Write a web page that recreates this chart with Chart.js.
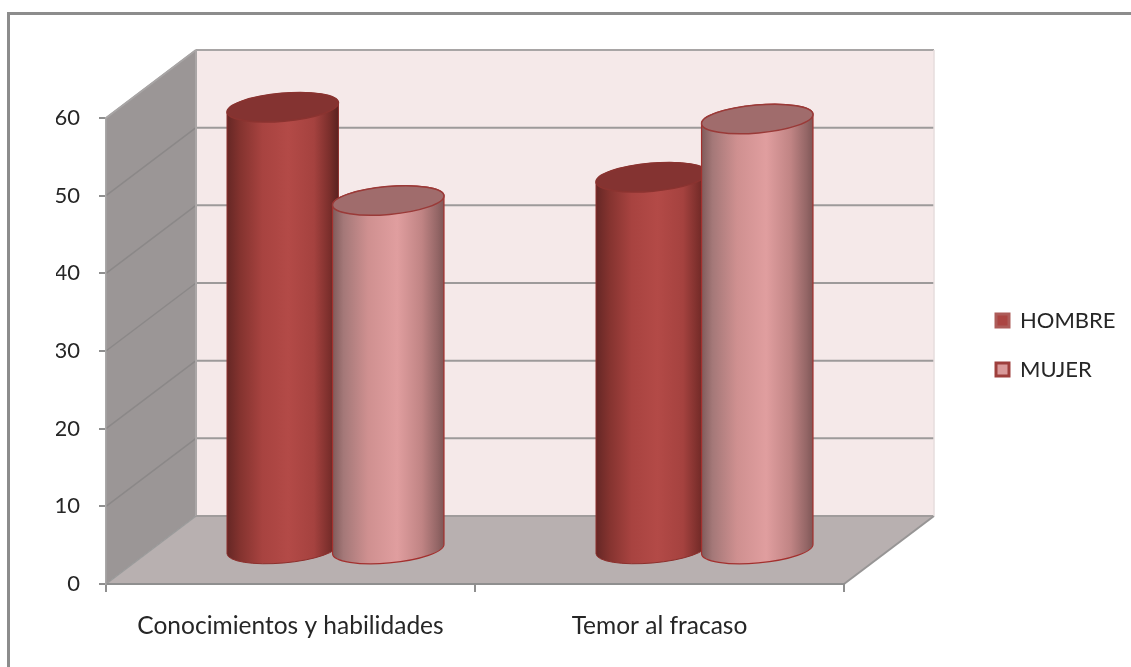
<!DOCTYPE html>
<html>
<head>
<meta charset="utf-8">
<title>Conocimientos y temor al fracaso</title>
<script src="https://cdn.jsdelivr.net/npm/chart.js@4/dist/chart.umd.min.js"></script>
<style>
    html, body { margin: 0; padding: 0; background: #fff; }
    #wrap { position: relative; width: 1131px; height: 667px; overflow: hidden; }
    #frame { position: absolute; left: 7px; top: 12px; width: 1130px; height: 670px; border: 3px solid #8c8c8c; }
    canvas { position: absolute; left: 0; top: 0; }
</style>
</head>
<body>
<div id="wrap">
    <div id="frame"></div>
    <canvas id="chart" width="1131" height="667"></canvas>
</div>
<script>
/* datos */
const categories = ['Conocimientos y habilidades', 'Temor al fracaso'];
const hombre = [57, 48];
const mujer = [45, 55.5];
const yTicksStep = 10;
const yMax = 60;

/* profundidad de la caja 3D */
const DEPTH_X = 90;
const DEPTH_Y = 68;
const TILT = -5 * Math.PI / 180;
const RY = 14;

function line(ctx, x1, y1, x2, y2, color, width) {
    ctx.strokeStyle = color;
    ctx.lineWidth = width;
    ctx.beginPath();
    ctx.moveTo(x1, y1);
    ctx.lineTo(x2, y2);
    ctx.stroke();
}

function poly(ctx, pts, color) {
    ctx.fillStyle = color;
    ctx.beginPath();
    pts.forEach((p, i) => i ? ctx.lineTo(p[0], p[1]) : ctx.moveTo(p[0], p[1]));
    ctx.closePath();
    ctx.fill();
}

// paredes, suelo y rejilla
const walls = {
    id: 'walls',
    beforeDraw(chart) {
        const ctx = chart.ctx;
        const { left, right, top, bottom } = chart.chartArea;
        const dx = DEPTH_X, dy = DEPTH_Y;
        const y = chart.scales.y;
        ctx.save();
        poly(ctx, [[left + dx, top - dy], [right + dx, top - dy], [right + dx, bottom - dy], [left + dx, bottom - dy]], '#f5e9e9');
        poly(ctx, [[left, top], [left + dx, top - dy], [left + dx, bottom - dy], [left, bottom]], '#9b9696');
        poly(ctx, [[left, bottom], [left + dx, bottom - dy], [right + dx, bottom - dy], [right, bottom]], '#b8b0b0');
        y.ticks.forEach(t => {
            const py = y.getPixelForValue(t.value);
            if (t.value > 0 && t.value < yMax) {
                line(ctx, left + dx, py - dy, right + dx, py - dy, '#9d9a9a', 2);
            }
            line(ctx, left, py, left + dx, py - dy, t.value === 0 ? '#9a9a9a' : '#8b8888', 1.5);
        });
        line(ctx, left + dx, top - dy, right + dx, top - dy, '#a8a5a5', 2);
        line(ctx, left, top, left + dx, top - dy, '#a8a5a5', 2);
        line(ctx, left + dx, top - dy, left + dx, bottom - dy, '#aaa6a6', 2);
        line(ctx, left + dx, bottom - dy, right + dx, bottom - dy, '#a09c9c', 2);
        line(ctx, right, bottom, right + dx, bottom - dy, '#979595', 2);
        line(ctx, right + dx, top - dy, right + dx, bottom - dy, '#e6dddd', 1.5);
        ctx.restore();
    }
};

function cylinder(ctx, bar, look) {
    const cx = bar.x + DEPTH_X / 2;
    const topY = bar.y - DEPTH_Y / 2;
    const baseY = bar.base - DEPTH_Y / 2;
    const rx = bar.width / 2;
    const g = ctx.createLinearGradient(cx - rx, 0, cx + rx, 0);
    look.stops.forEach(s => g.addColorStop(s[0], s[1]));

    ctx.beginPath();
    ctx.ellipse(cx, baseY, rx, RY, TILT, 0, Math.PI);
    ctx.ellipse(cx, topY, rx, RY, TILT, Math.PI, Math.PI * 2);
    ctx.closePath();
    ctx.fillStyle = g;
    ctx.fill();
    ctx.strokeStyle = look.edge;
    ctx.lineWidth = look.edgeWidth;
    ctx.stroke();

    ctx.beginPath();
    ctx.ellipse(cx, topY, rx, RY, TILT, 0, Math.PI * 2);
    ctx.fillStyle = look.cap;
    ctx.fill();
    ctx.strokeStyle = look.capEdge;
    ctx.lineWidth = 1.5;
    ctx.stroke();
}

const looks = [
    {
        stops: [[0, '#652725'], [0.12, '#84332f'], [0.32, '#a84340'], [0.55, '#b34a47'], [0.78, '#a5423f'], [0.92, '#7a2e2b'], [1, '#592120']],
        cap: '#843331', capEdge: '#8a3330', edge: '#8c2f2c', edgeWidth: 1
    },
    {
        stops: [[0, '#7f5a5a'], [0.1, '#a47878'], [0.32, '#cf9090'], [0.58, '#e09e9f'], [0.8, '#c08484'], [0.94, '#946666'], [1, '#7e5656']],
        cap: '#a06c6c', capEdge: '#9a3a38', edge: '#a3302e', edgeWidth: 1.2
    }
];

// cilindros: se dibujan en lugar de las barras planas
const cylinders = {
    id: 'cylinders',
    beforeDatasetsDraw(chart) {
        const ctx = chart.ctx;
        ctx.save();
        categories.forEach((c, i) => {
            chart.data.datasets.forEach((d, k) => {
                const bar = chart.getDatasetMeta(k).data[i].getProps(['x', 'y', 'base', 'width'], true);
                cylinder(ctx, bar, looks[k]);
            });
        });
        ctx.restore();
        return false;
    }
};

// la leyenda va fuera de la zona del grafico
const moveLegend = {
    id: 'moveLegend',
    afterLayout(chart) {
        const l = chart.legend;
        const pad = l.options.labels.padding;
        const w = l.right - l.left, h = l.bottom - l.top;
        l.left = 996 - pad;
        l.right = l.left + w;
        l.top = 309.5 - pad;
        l.bottom = l.top + h;
    }
};

const sideFont = { family: 'Lato', size: 22 };
const bottomFont = { family: 'Lato', size: 24.5 };

new Chart(document.getElementById('chart'), {
    type: 'bar',
    data: {
        labels: categories,
        datasets: [
            { label: 'HOMBRE', data: hombre, backgroundColor: '#ab4542', borderColor: '#ad5c59', borderWidth: 3 },
            { label: 'MUJER', data: mujer, backgroundColor: '#d99a9a', borderColor: '#9e3f3c', borderWidth: 3 }
        ]
    },
    options: {
        responsive: false,
        animation: false,
        categoryPercentage: 0.572,
        barPercentage: 1.06,
        layout: { padding: { left: 56, top: 118, right: 287, bottom: 23 } },
        plugins: {
            tooltip: { enabled: false },
            legend: {
                position: 'chartArea',
                align: 'start',
                labels: { boxWidth: 13, boxHeight: 13, padding: 27, color: '#262626', font: sideFont }
            }
        },
        scales: {
            x: {
                afterFit(s) { s.height = 60; },
                grid: { offset: true, drawOnChartArea: false, tickLength: 8, lineWidth: 2, color: '#8f8f8f' },
                border: { color: '#8f8f8f', width: 2 },
                ticks: { color: '#262626', font: bottomFont, padding: 19, maxRotation: 0 }
            },
            y: {
                min: 0,
                max: yMax,
                afterFit(s) { s.width = 50; },
                grid: { drawOnChartArea: false, tickLength: 7, lineWidth: 2, color: '#8f8f8f' },
                border: { color: '#aaa8a8', width: 1.5 },
                ticks: { stepSize: yTicksStep, color: '#262626', font: sideFont, padding: 19 }
            }
        }
    },
    plugins: [walls, cylinders, moveLegend]
});
</script>
</body>
</html>
